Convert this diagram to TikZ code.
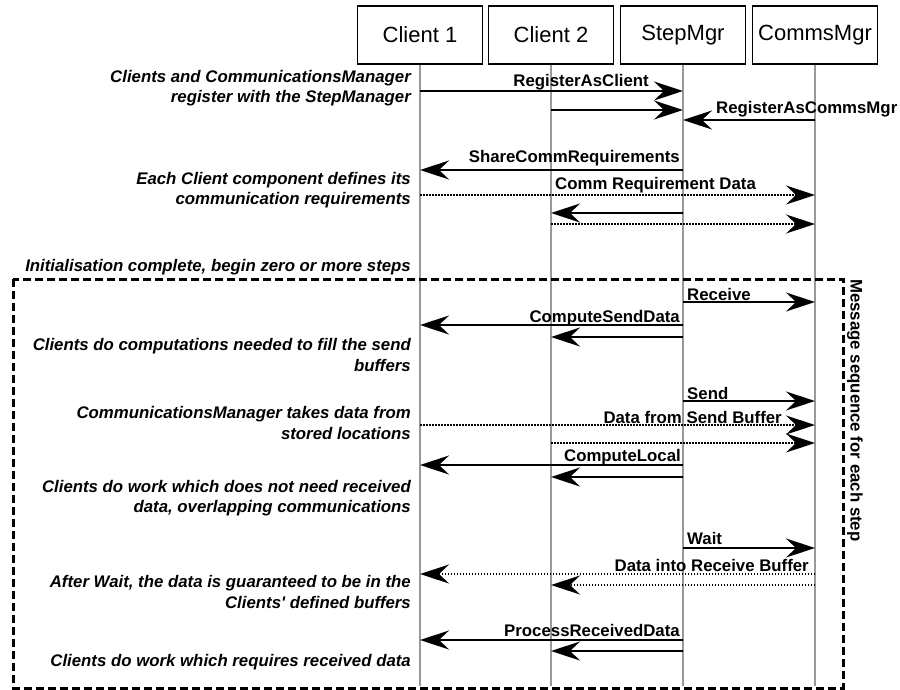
\documentclass[tikz,border=0pt]{standalone}
\usepackage{fontspec}
\setmainfont{Liberation Sans}
\usetikzlibrary{calc,positioning,arrows,arrows.meta}

\begin{document}
\begin{tikzpicture}[x=1pt, y=-1pt]
\tikzstyle{obj}=[draw, line width=1.5pt, minimum width=125pt, minimum height=58pt,
                 inner sep=0pt, font=\fontsize{22}{26}\selectfont]
\tikzstyle{lbl}=[inner sep=0pt, font=\fontsize{16.8}{20}\selectfont\bfseries]
\tikzstyle{note}=[inner sep=0pt, align=right, anchor=east,
                  font=\fontsize{16.8}{20.5}\selectfont\bfseries\itshape]
\tikzstyle{msg}=[line width=2pt, -{Stealth[length=29pt,width=19pt,inset=10pt]}]
\tikzstyle{dat}=[msg, line width=1.5pt, dash pattern=on 1.5pt off 1.5pt]
\tikzstyle{life}=[line width=2.8pt, black!40]
\tikzstyle{frame}=[line width=3pt, dash pattern=on 8pt off 4pt]
\fill[white] (0,0) rectangle (900,689);
\useasboundingbox (0,0) rectangle (900,689);

\node[obj] (cl1) at (420,35) {Client 1};
\node[obj] (cl2) at (551,35) {Client 2};
\node[obj] (stepmgr) at (683,35) {StepMgr};
\node[obj] (commsmgr) at (815,35) {CommsMgr};
\coordinate (base) at (0,686);
\foreach \n in {cl1,cl2,stepmgr,commsmgr}{\draw[life] (\n.south) -- (\n |- base);}

\draw[frame] (13,279) rectangle (843,688);

\foreach \a/\b/\y/\s in {cl1/stepmgr/91/msg, cl2/stepmgr/110/msg, commsmgr/stepmgr/120/msg,
  stepmgr/cl1/170/msg, cl1/commsmgr/195/dat, stepmgr/cl2/213/msg, cl2/commsmgr/224/dat,
  stepmgr/commsmgr/302/msg, stepmgr/cl1/325/msg, stepmgr/cl2/337/msg,
  stepmgr/commsmgr/401/msg, cl1/commsmgr/425/dat, cl2/commsmgr/443/dat,
  stepmgr/cl1/465/msg, stepmgr/cl2/477/msg,
  stepmgr/commsmgr/548/msg, commsmgr/cl1/574/dat, commsmgr/cl2/585/dat,
  stepmgr/cl1/640/msg, stepmgr/cl2/651/msg}{\draw[\s] (\a |- 0,\y) -- (\b |- 0,\y);}

\node[lbl, anchor=east] (regcl) at (649,82) {RegisterAsClient};
\node[lbl, anchor=west] (regcm) at (716,109) {RegisterAsCommsMgr};
\node[lbl, anchor=east] (share) at (680,158) {ShareCommRequirements};
\node[lbl, anchor=west] (reqdata) at (555,185) {Comm Requirement Data};
\node[lbl, anchor=west] (recv) at (687,294) {Receive};
\node[lbl, anchor=east] (csd) at (680,318) {ComputeSendData};
\node[lbl, anchor=west] (send) at (687,393) {Send};
\node[lbl, anchor=east] (sbuf) at (782,417) {Data from Send Buffer};
\node[lbl, anchor=east] (clocal) at (681,457) {ComputeLocal};
\node[lbl, anchor=west] (wait) at (687,538) {Wait};
\node[lbl, anchor=east] (rbuf) at (809,565) {Data into Receive Buffer};
\node[lbl, anchor=east] (prd) at (680,630) {ProcessReceivedData};
\node[lbl, rotate=-90, anchor=west] (seq) at (855,279) {Message sequence for each step};

\node[note] (n1) at (411,88) {Clients and CommunicationsManager\\register with the StepManager};
\node[note] (n2) at (411,190) {Each Client component defines its\\communication requirements};
\node[note] (n3) at (411,267) {Initialisation complete, begin zero or more steps};
\node[note] (n4) at (411,355) {Clients do computations needed to fill the send\\buffers};
\node[note] (n5) at (411,423) {CommunicationsManager takes data from\\stored locations};
\node[note] (n6) at (411,498) {Clients do work which does not need received\\data, overlapping communications};
\node[note] (n7) at (411,592) {After Wait, the data is guaranteed to be in the\\Clients\textquotesingle{} defined buffers};
\node[note] (n8) at (411,662) {Clients do work which requires received data};
\end{tikzpicture}
\end{document}
